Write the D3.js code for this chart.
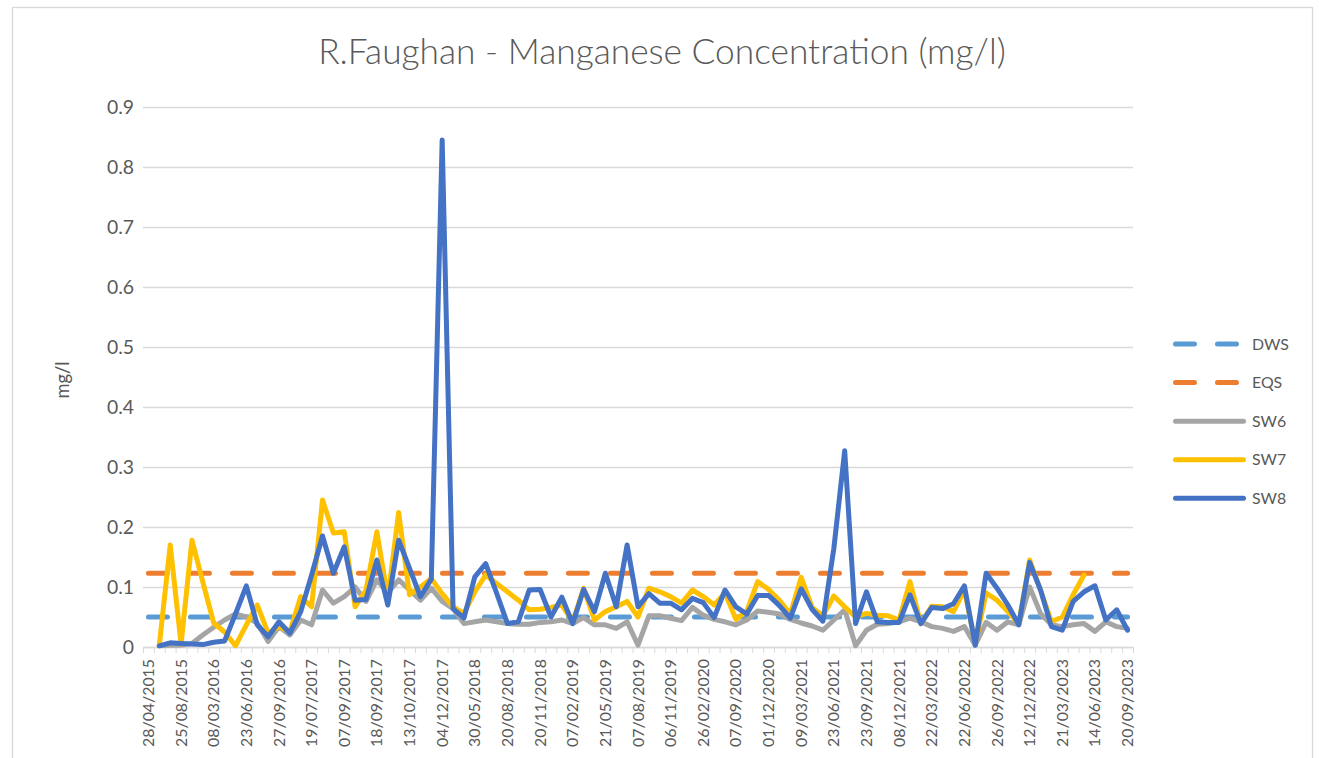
<!DOCTYPE html>
<html lang="en">
<head>
<meta charset="UTF-8">
<title>R.Faughan - Manganese Concentration (mg/l)</title>
<script src="https://d3js.org/d3.v7.min.js"></script>
<style>
  body { margin: 0; background: #fff; }
  text { font-family: Lato, "Liberation Sans", sans-serif; fill: #595959; }
</style>
</head>
<body>
<div id="chart"></div>
<script>
// labels shown on the category axis (every 3rd sampling date)
const tickLabels = ["28/04/2015","25/08/2015","08/03/2016","23/06/2016","27/09/2016","19/07/2017",
  "07/09/2017","18/09/2017","13/10/2017","04/12/2017","30/05/2018","20/08/2018","20/11/2018",
  "07/02/2019","21/05/2019","07/08/2019","06/11/2019","26/02/2020","07/09/2020","01/12/2020",
  "09/03/2021","23/06/2021","23/09/2021","08/12/2021","22/03/2022","22/06/2022","26/09/2022",
  "12/12/2022","21/03/2023","14/06/2023","20/09/2023"];
const labelStep = 3;

const sw6 = [null,0.002,0.003,0.003,0.006,0.02,0.033,0.045,0.055,0.05,0.04,0.009,0.034,0.02,0.045,0.037,
  0.095,0.073,0.084,0.1,0.076,0.112,0.09,0.112,0.095,0.078,0.098,0.076,0.064,0.039,0.042,0.045,0.042,
  0.039,0.038,0.038,0.041,0.042,0.045,0.039,0.049,0.037,0.037,0.031,0.042,0.003,0.052,0.052,0.048,
  0.044,0.066,0.053,0.046,0.042,0.037,0.045,0.06,0.058,0.055,0.046,0.04,0.035,0.028,0.045,0.062,
  0.002,0.028,0.038,0.039,0.042,0.048,0.042,0.034,0.031,0.026,0.034,0.003,0.041,0.028,0.042,0.037,
  0.1,0.056,0.037,0.034,0.037,0.039,0.026,0.042,0.034,0.031];

const sw7 = [null,0.003,0.17,0.005,0.178,0.108,0.04,0.025,0.002,0.037,0.07,0.023,0.034,0.026,0.084,0.067,
  0.245,0.19,0.192,0.067,0.095,0.192,0.081,0.224,0.087,0.1,0.114,0.089,0.067,0.056,0.092,0.12,0.106,
  0.092,0.078,0.062,0.063,0.066,0.07,0.042,0.098,0.045,0.059,0.067,0.076,0.05,0.098,0.092,0.084,
  0.073,0.095,0.084,0.07,0.09,0.046,0.06,0.109,0.096,0.078,0.055,0.116,0.066,0.052,0.085,0.067,
  0.05,0.056,0.053,0.052,0.045,0.109,0.039,0.068,0.067,0.059,0.095,0.006,0.09,0.078,0.059,0.039,
  0.145,0.095,0.042,0.05,0.087,0.12,null,null,null,null];

const sw8 = [null,0.002,0.007,0.006,0.005,0.004,0.008,0.01,0.055,0.102,0.037,0.017,0.042,0.023,0.059,0.12,
  0.185,0.123,0.167,0.078,0.079,0.145,0.07,0.178,0.131,0.084,0.113,0.845,0.064,0.048,0.117,0.139,0.09,
  0.039,0.042,0.095,0.096,0.05,0.083,0.039,0.096,0.059,0.123,0.067,0.17,0.067,0.089,0.073,0.073,
  0.062,0.081,0.074,0.049,0.095,0.067,0.055,0.086,0.086,0.069,0.048,0.097,0.063,0.043,0.164,0.327,
  0.039,0.092,0.042,0.041,0.041,0.087,0.039,0.066,0.064,0.072,0.102,0.003,0.123,0.098,0.07,0.037,
  0.141,0.095,0.034,0.028,0.076,0.092,0.102,0.045,0.062,0.028];

// guideline values
const dws = 0.05;
const eqs = 0.123;

const yTicks = [0,0.1,0.2,0.3,0.4,0.5,0.6,0.7,0.8,0.9];

const names = ["DWS","EQS","SW6","SW7","SW8"];
const colors = ["#5B9BD5","#ED7D31","#A5A5A5","#FFC000","#4472C4"];

const width = 1319, height = 758;
const n = sw8.length;

const svg = d3.select("#chart").append("svg")
  .attr("width", width)
  .attr("height", height);

// measure text so Lato fills the same room as the original Calibri
function textWidth(str, size, weight) {
  const t = svg.append("text").style("font-size", size + "px").style("font-weight", weight).text(str);
  const w = t.node().getComputedTextLength();
  t.remove();
  return w;
}
const small = 18 * 88 / textWidth("28/04/2015", 18, 400);
const titleSize = 36 * 688 / textWidth("R.Faughan - Manganese Concentration (mg/l)", 36, 300);

// chart frame
svg.append("rect")
  .attr("x", 12.5).attr("y", 7.5)
  .attr("width", 1300).attr("height", 780)
  .attr("fill", "none")
  .attr("stroke", "#d9d9d9")
  .attr("stroke-width", 1.3);

const x = d3.scaleBand().domain(d3.range(n)).range([143, 1133]);
const cx = i => x(i) + x.bandwidth() / 2;
const xEdges = d3.scaleLinear().domain([0, n]).range([143, 1133]);
const y = d3.scaleLinear().domain([0, 0.9]).range([647, 107]);

// gridlines + y labels
const yAxis = svg.append("g")
  .attr("transform", "translate(143,0)")
  .call(d3.axisLeft(y).tickValues(yTicks).tickSize(-990).tickPadding(9)
    .tickFormat(d3.format(".1~f")));
yAxis.select(".domain").remove();
yAxis.selectAll("line").attr("stroke", "#d9d9d9").attr("stroke-width", 1.3);
yAxis.selectAll("text").style("font-size", (small * 1.22) + "px").attr("fill", "#595959");

// category axis line and tick marks
const xAxis = svg.append("g")
  .attr("transform", "translate(0,647)")
  .call(d3.axisBottom(xEdges).tickValues(d3.range(n + 1)).tickSize(6).tickFormat("").tickSizeOuter(0));
xAxis.select(".domain").attr("stroke", "#d9d9d9").attr("stroke-width", 1.3);
xAxis.selectAll("line").attr("stroke", "#d9d9d9").attr("stroke-width", 1);

// rotated date labels
svg.append("g")
  .selectAll("text")
  .data(tickLabels)
  .join("text")
  .attr("transform", (d, k) => `translate(${cx(k * labelStep)},659) rotate(-90)`)
  .attr("text-anchor", "end")
  .attr("dy", "0.35em")
  .style("font-size", small + "px")
  .text(d => d);

// title
svg.append("text")
  .attr("x", 662)
  .attr("y", 64)
  .attr("text-anchor", "middle")
  .style("font-size", titleSize + "px")
  .style("font-weight", 300)
  .text("R.Faughan - Manganese Concentration (mg/l)");

// y axis title
svg.append("text")
  .attr("transform", "translate(63,380) rotate(-90)")
  .attr("text-anchor", "middle")
  .attr("dy", "0.35em")
  .style("font-size", (small * 1.15) + "px")
  .text("mg/l");

// guideline series
const flat = v => d3.line().x(i => cx(i)).y(() => y(v));
[dws, eqs].forEach((v, k) => {
  svg.append("path")
    .attr("d", flat(v)([0, n - 1]))
    .attr("fill", "none")
    .attr("stroke", colors[k])
    .attr("stroke-width", 5)
    .attr("stroke-linecap", "round")
    .attr("stroke-dasharray", "19 23");
});

// measured series
const line = d3.line()
  .defined(d => d != null)
  .x((d, i) => cx(i))
  .y(d => y(d));

[sw6, sw7, sw8].forEach((s, k) => {
  svg.append("path")
    .attr("d", line(s))
    .attr("fill", "none")
    .attr("stroke", colors[k + 2])
    .attr("stroke-width", 5)
    .attr("stroke-linejoin", "round")
    .attr("stroke-linecap", "round");
});

// legend
const legendY = d3.scalePoint().domain(names).range([344, 498.3]);
const legend = svg.append("g")
  .selectAll("g")
  .data(names)
  .join("g")
  .attr("transform", d => `translate(0,${legendY(d)})`);

legend.append("line")
  .attr("x1", 1175.5).attr("x2", 1243.5)
  .attr("stroke", (d, i) => colors[i])
  .attr("stroke-width", 5)
  .attr("stroke-linecap", "round")
  .attr("stroke-dasharray", (d, i) => i < 2 ? "19 23" : null);

legend.append("text")
  .attr("x", 1252)
  .attr("dy", "0.35em")
  .style("font-size", small + "px")
  .text(d => d);
</script>
</body>
</html>
